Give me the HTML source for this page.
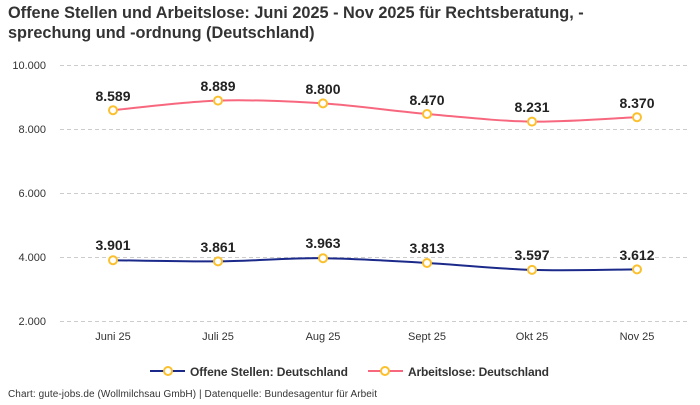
<!DOCTYPE html>
<html><head><meta charset="utf-8"><style>
body{margin:0;width:700px;height:400px;background:#fff;overflow:hidden;font-family:"Liberation Sans",sans-serif}
</style></head><body>
<svg width="700" height="400" xmlns="http://www.w3.org/2000/svg" font-family="Liberation Sans, sans-serif">
<text x="8" y="18" font-size="16.3" font-weight="bold" fill="#333">Offene Stellen und Arbeitslose: Juni 2025 - Nov 2025 für Rechtsberatung, -</text>
<text x="8" y="38" font-size="16.3" font-weight="bold" fill="#333">sprechung und -ordnung (Deutschland)</text>
<g stroke="#ccc" stroke-dasharray="4,3" stroke-width="1">
<line x1="60" x2="690" y1="65.5" y2="65.5"/><line x1="60" x2="690" y1="129.5" y2="129.5"/>
<line x1="60" x2="690" y1="193.5" y2="193.5"/><line x1="60" x2="690" y1="257.5" y2="257.5"/>
<line x1="60" x2="690" y1="321.5" y2="321.5"/></g>
<g font-size="11" fill="#333" text-anchor="end">
<text x="46" y="69">10.000</text><text x="46" y="133">8.000</text><text x="46" y="197">6.000</text>
<text x="46" y="261">4.000</text><text x="46" y="325">2.000</text></g>
<g font-size="11" fill="#333" text-anchor="middle">
<text x="113" y="340">Juni 25</text><text x="218" y="340">Juli 25</text><text x="323" y="340">Aug 25</text>
<text x="427" y="340">Sept 25</text><text x="532" y="340">Okt 25</text><text x="637" y="340">Nov 25</text></g>
<path d="M113,110.2 C130.5,108.6 183,101.7 218,100.6 C253,99.5 288.2,101.2 323,103.4 C357.8,105.6 392.2,111 427,114 C461.8,117 497,121.1 532,121.6 C567,122.1 619.5,117.9 637,117.2" fill="none" stroke="#f7687f" stroke-width="2"/>
<path d="M113,260.2 C130.5,260.4 183,261.7 218,261.4 C253,261.1 288.2,257.9 323,258.2 C357.8,258.5 392.2,261.05 427,263 C461.8,264.95 497,268.8 532,269.9 C567,270.97 619.5,269.5 637,269.4" fill="none" stroke="#1b2a8a" stroke-width="2"/>
<g fill="#fff" stroke="#fbc02d" stroke-width="2">
<circle cx="113" cy="110.2" r="4"/><circle cx="218" cy="100.6" r="4"/><circle cx="323" cy="103.4" r="4"/>
<circle cx="427" cy="114" r="4"/><circle cx="532" cy="121.6" r="4"/><circle cx="637" cy="117.2" r="4"/>
<circle cx="113" cy="260.2" r="4"/><circle cx="218" cy="261.4" r="4"/><circle cx="323" cy="258.2" r="4"/>
<circle cx="427" cy="263" r="4"/><circle cx="532" cy="269.9" r="4"/><circle cx="637" cy="269.4" r="4"/></g>
<g font-size="14" font-weight="bold" fill="#222" text-anchor="middle">
<text x="113" y="101">8.589</text><text x="218" y="91">8.889</text><text x="323" y="94">8.800</text>
<text x="427" y="105">8.470</text><text x="532" y="112">8.231</text><text x="637" y="108">8.370</text>
<text x="113" y="250">3.901</text><text x="218" y="252">3.861</text><text x="323" y="248">3.963</text>
<text x="427" y="253">3.813</text><text x="532" y="260">3.597</text><text x="637" y="260">3.612</text></g>
<line x1="150" x2="185" y1="371" y2="371" stroke="#1b2a8a" stroke-width="2"/>
<circle cx="168" cy="371" r="4" fill="#fff" stroke="#fbc02d" stroke-width="2"/>
<text x="190" y="376" font-size="12" font-weight="bold" fill="#333" textLength="158">Offene Stellen: Deutschland</text>
<line x1="368" x2="403" y1="371" y2="371" stroke="#f7687f" stroke-width="2"/>
<circle cx="385" cy="371" r="4" fill="#fff" stroke="#fbc02d" stroke-width="2"/>
<text x="408" y="376" font-size="12" font-weight="bold" fill="#333" textLength="141">Arbeitslose: Deutschland</text>
<text x="8" y="397" font-size="10" fill="#333" textLength="369">Chart: gute-jobs.de (Wollmilchsau GmbH) | Datenquelle: Bundesagentur für Arbeit</text>
</svg>
</body></html>
